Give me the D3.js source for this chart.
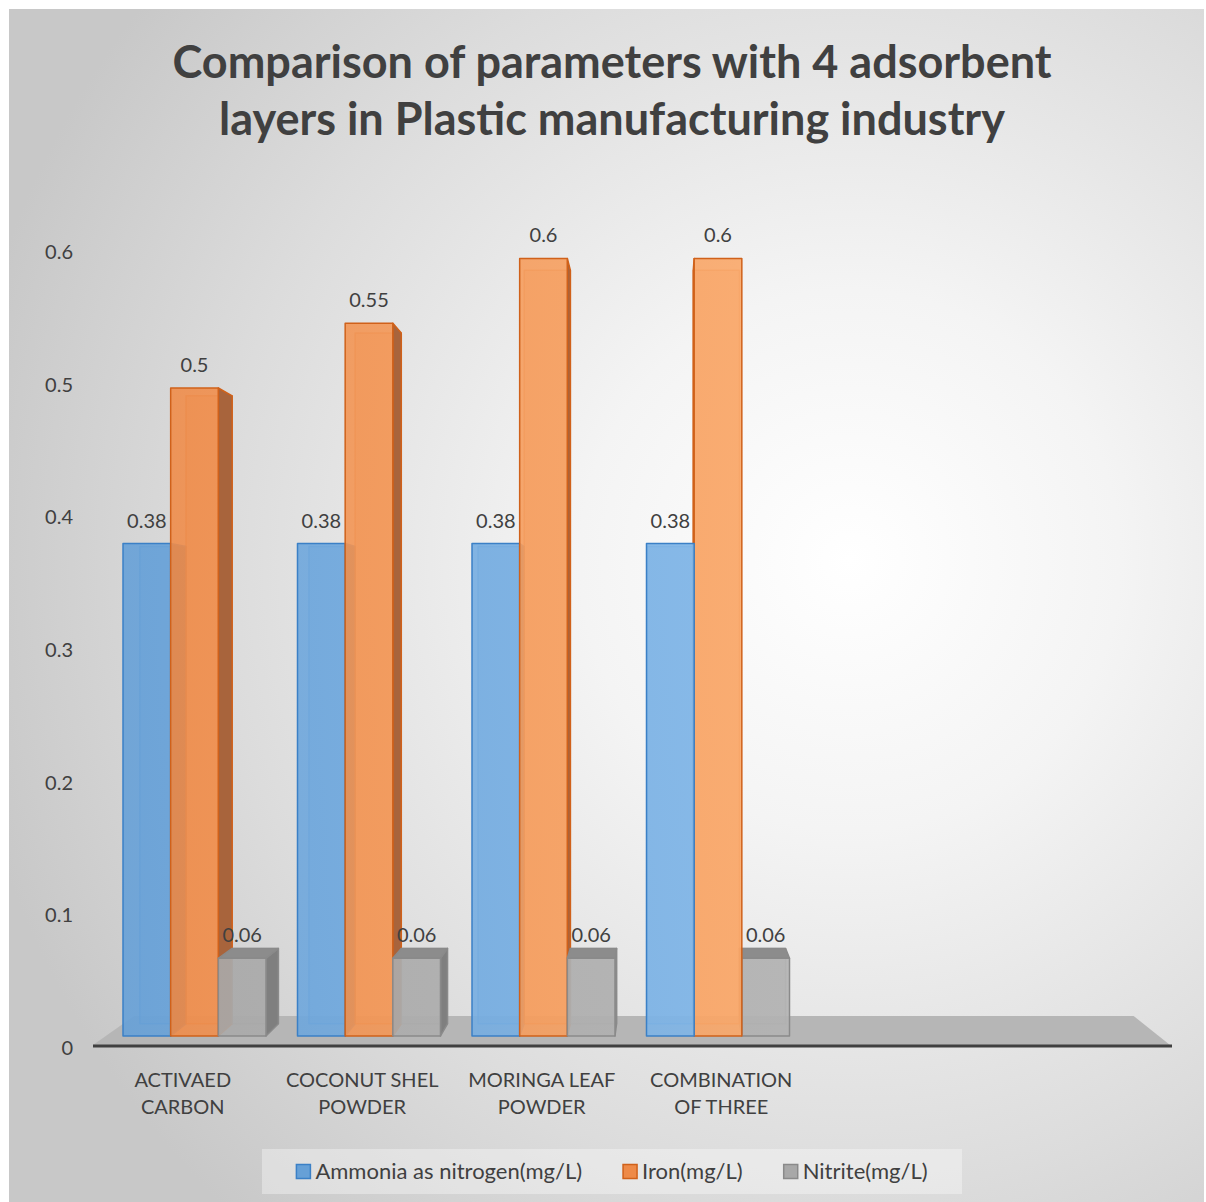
<!DOCTYPE html>
<html>
<head>
<meta charset="utf-8">
<script src="https://cdn.jsdelivr.net/npm/d3@7"></script>
<style>
  html, body { margin: 0; padding: 0; background: #ffffff; }
  svg { display: block; }
  text { font-family: Lato, "Open Sans", "DejaVu Sans", sans-serif; fill: #404040; }
</style>
</head>
<body>
<script>
// ---- data ----
const categories = [
  ["ACTIVAED", "CARBON"],
  ["COCONUT SHEL", "POWDER"],
  ["MORINGA LEAF", "POWDER"],
  ["COMBINATION", "OF THREE"],
  [],
  []
];
const seriesNames = ["Ammonia as nitrogen(mg/L)", "Iron(mg/L)", "Nitrite(mg/L)"];
const ammonia = [0.38, 0.38, 0.38, 0.38, null, null];
const iron    = [0.5, 0.55, 0.6, 0.6, null, null];
const nitrite = [0.06, 0.06, 0.06, 0.06, null, null];
const yTicks  = [0, 0.1, 0.2, 0.3, 0.4, 0.5, 0.6];
const titleLines = ["Comparison of parameters with 4 adsorbent", "layers in Plastic manufacturing industry"];

const seriesValues = [ammonia, iron, nitrite];

// ---- styling ----
const W = 1206, H = 1202;
const palette = [
  { light0: "#66a0d7", light1: "#84b9ea", stroke: "#3b80c6", side: "#44719c", top: "#4d82b4" },
  { light0: "#ee8a48", light1: "#fbab6d", stroke: "#d0611a", side: "#a8643c", top: "#c5692e" },
  { light0: "#a8a8a8", light1: "#b3b3b3", stroke: "#8a8a8a", side: "#7f7f7f", top: "#8c8c8c" }
];

const svg = d3.select("body").append("svg").attr("width", W).attr("height", H);
const defs = svg.append("defs");

// background: soft radial light
const bg = defs.append("radialGradient").attr("id", "bgGrad")
  .attr("gradientUnits", "userSpaceOnUse")
  .attr("cx", 850).attr("cy", 560).attr("r", 900);
[[0, "#ffffff"], [0.3, "#f4f4f4"], [0.7, "#dcdcdc"], [1, "#c8c8c8"]].forEach(([o, c]) =>
  bg.append("stop").attr("offset", o).attr("stop-color", c));

palette.forEach((p, i) => {
  const g = defs.append("linearGradient").attr("id", "front" + i)
    .attr("gradientUnits", "userSpaceOnUse")
    .attr("x1", 120).attr("y1", 0).attr("x2", 800).attr("y2", 0);
  g.append("stop").attr("offset", 0).attr("stop-color", p.light0);
  g.append("stop").attr("offset", 1).attr("stop-color", p.light1);
});

svg.append("rect").attr("x", 9).attr("y", 9).attr("width", W - 11).attr("height", H - 9)
  .attr("fill", "url(#bgGrad)");

// ---- title ----
svg.append("g").selectAll("text").data(titleLines).join("text")
  .attr("x", 612).attr("y", (d, i) => 78 + i * 57)
  .attr("text-anchor", "middle")
  .attr("font-size", 45).attr("font-weight", 700)
  .text(d => d);

// ---- scales ----
const idx = d3.range(categories.length);
// category labels live on the front (axis) plane
const xAxis = d3.scaleBand().domain(idx).range([93, 1170]);
const yAxis = d3.scaleLinear().domain([0, 0.6]).range([1048, 252]);
// bar front faces sit slightly behind the axis plane
const xBar = d3.scaleBand().domain(idx).range([107.25, 1154.25]);
const clusterWidth = 143;
const xSeries = d3.scaleBand().domain(d3.range(seriesValues.length)).range([0, clusterWidth]);
const yBar = d3.scaleLinear().domain([0, 0.6]).range([1036, 258.4]);

// perspective: depth shrinks points toward a vanishing point
const V = [665, 642];
const barDepth = 0.969;
const floorDepth = 0.928;
const proj = (p, k) => [V[0] + (p[0] - V[0]) * k, V[1] + (p[1] - V[1]) * k];

// ---- floor ----
const floorFront = [[xAxis.range()[0], 1045], [xAxis.range()[1], 1045]];
const floorPts = [floorFront[0], floorFront[1], proj(floorFront[1], floorDepth), proj(floorFront[0], floorDepth)];
svg.append("polygon")
  .attr("points", floorPts.map(p => p.join(",")).join(" "))
  .attr("fill", "#b6b6b6");
svg.append("line")
  .attr("x1", xAxis.range()[0]).attr("x2", xAxis.range()[1] + 2)
  .attr("y1", 1046).attr("y2", 1046)
  .attr("stroke", "#404040").attr("stroke-width", 3);

// ---- bars ----
const bars = [];
idx.forEach(ci => {
  seriesValues.forEach((vals, si) => {
    const v = vals[ci];
    if (v == null) return;
    const x0 = xBar(ci) + (xBar.bandwidth() - clusterWidth) / 2 + xSeries(si);
    const x1 = x0 + xSeries.bandwidth();
    bars.push({ ci, si, v, x0, x1, yT: yBar(v), yB: yBar(0) });
  });
});
// farther from the vanishing point first so nearer faces overlap correctly
bars.sort((a, b) => Math.abs((b.x0 + b.x1) / 2 - V[0]) - Math.abs((a.x0 + a.x1) / 2 - V[0]));

const barG = svg.append("g");
const poly = (g, pts, fill, stroke, op) => g.append("polygon")
  .attr("points", pts.map(p => p.join(",")).join(" "))
  .attr("fill", fill).attr("fill-opacity", op)
  .attr("stroke", stroke).attr("stroke-width", 1.5).attr("stroke-linejoin", "round");

bars.forEach(b => {
  const p = palette[b.si];
  const g = barG.append("g");
  const fTL = [b.x0, b.yT], fTR = [b.x1, b.yT], fBR = [b.x1, b.yB], fBL = [b.x0, b.yB];
  const bTL = proj(fTL, barDepth), bTR = proj(fTR, barDepth), bBR = proj(fBR, barDepth), bBL = proj(fBL, barDepth);
  // back face (seen through the translucent front)
  poly(g, [bTL, bTR, bBR, bBL], p.light0, p.stroke, 0.35).attr("stroke-opacity", 0.55);
  // side face
  if (b.x1 < V[0]) poly(g, [fTR, bTR, bBR, fBR], p.side, p.stroke, 1);
  else if (b.x0 > V[0]) poly(g, [fTL, bTL, bBL, fBL], p.side, p.stroke, 1);
  // top face
  if (b.yT > V[1]) poly(g, [fTL, fTR, bTR, bTL], p.top, p.stroke, 1);
  // front face
  poly(g, [fTL, fTR, fBR, fBL], `url(#front${b.si})`, p.stroke, 0.9);
});

// ---- data labels ----
svg.append("g").selectAll("text").data(bars).join("text")
  .attr("x", d => (d.x0 + d.x1) / 2)
  .attr("y", d => d.yT - 16)
  .attr("text-anchor", "middle")
  .attr("font-size", 20)
  .text(d => d3.format("")(d.v));

// ---- value axis labels ----
svg.append("g").selectAll("text").data(yTicks).join("text")
  .attr("x", 73).attr("y", d => yAxis(d))
  .attr("dy", "0.35em")
  .attr("text-anchor", "end")
  .attr("font-size", 20)
  .text(d => d3.format("")(d));

// ---- category labels ----
const catG = svg.append("g").selectAll("text").data(idx).join("text")
  .attr("x", i => xAxis(i) + xAxis.bandwidth() / 2)
  .attr("y", 1087)
  .attr("text-anchor", "middle")
  .attr("font-size", 20);
catG.selectAll("tspan").data(i => categories[i]).join("tspan")
  .attr("x", function () { return this.parentNode.getAttribute("x"); })
  .attr("dy", (d, j) => j === 0 ? 0 : 27)
  .text(d => d);

// ---- legend ----
const legBox = { x: 262, y: 1149, w: 700, h: 45 };
svg.append("rect").attr("x", legBox.x).attr("y", legBox.y)
  .attr("width", legBox.w).attr("height", legBox.h)
  .attr("fill", "#ffffff").attr("fill-opacity", 0.35);
const leg = svg.append("g");
const items = seriesNames.map((name, i) => {
  const g = leg.append("g");
  g.append("rect").attr("x", 0).attr("y", -7).attr("width", 14).attr("height", 14)
    .attr("fill", palette[i].light0).attr("stroke", palette[i].stroke).attr("stroke-width", 1.5);
  const t = g.append("text").attr("x", 19).attr("y", 0).attr("dy", "0.35em")
    .attr("font-size", 22).text(name);
  return { g, w: 19 + t.node().getComputedTextLength() };
});
const gap = 41;
const total = d3.sum(items, d => d.w) + gap * (items.length - 1);
let cx = legBox.x + (legBox.w - total) / 2;
items.forEach(it => { it.g.attr("transform", `translate(${cx},${legBox.y + legBox.h / 2})`); cx += it.w + gap; });
</script>
</body>
</html>
